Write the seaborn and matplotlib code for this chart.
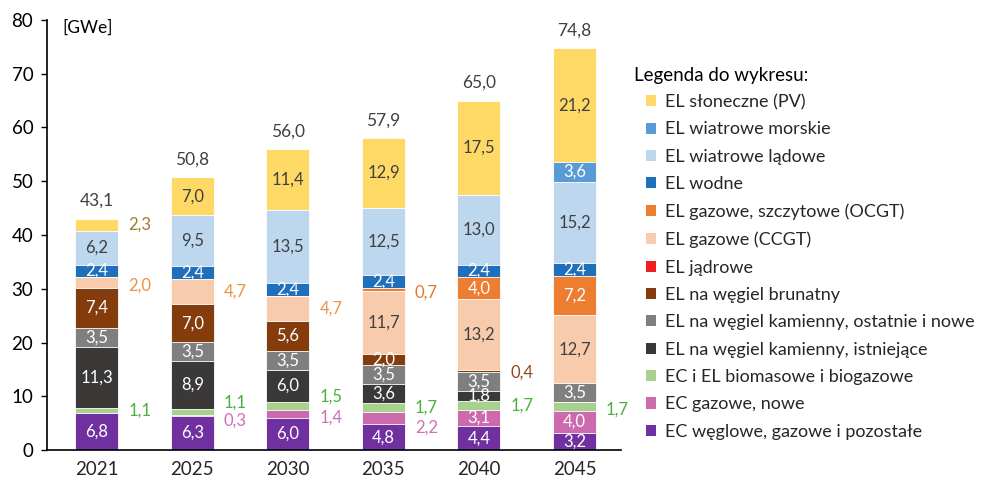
import numpy as np
import pandas as pd
import matplotlib.pyplot as plt
import matplotlib.patches as mpatches
import seaborn as sns

# Data (GWe), stacking order bottom -> top
years = ['2021', '2025', '2030', '2035', '2040', '2045']
categories = [
    'EC węglowe, gazowe i pozostałe',
    'EC gazowe, nowe',
    'EC i EL biomasowe i biogazowe',
    'EL na węgiel kamienny, istniejące',
    'EL na węgiel kamienny, ostatnie i nowe',
    'EL na węgiel brunatny',
    'EL jądrowe',
    'EL gazowe (CCGT)',
    'EL gazowe, szczytowe (OCGT)',
    'EL wodne',
    'EL wiatrowe lądowe',
    'EL wiatrowe morskie',
    'EL słoneczne (PV)',
]
ec_coal_gas = [6.8, 6.3, 6.0, 4.8, 4.4, 3.2]
ec_gas_new = [0.0, 0.3, 1.4, 2.2, 3.1, 4.0]
biomass = [1.1, 1.1, 1.5, 1.7, 1.7, 1.7]
hard_coal_old = [11.3, 8.9, 6.0, 3.6, 1.8, 0.0]
hard_coal_new = [3.5, 3.5, 3.5, 3.5, 3.5, 3.5]
lignite = [7.4, 7.0, 5.6, 2.0, 0.4, 0.0]
nuclear = [0.0, 0.0, 0.0, 0.0, 0.0, 0.0]
ccgt = [2.0, 4.7, 4.7, 11.7, 13.2, 12.7]
ocgt = [0.0, 0.0, 0.0, 0.7, 4.0, 7.2]
hydro = [2.4, 2.4, 2.4, 2.4, 2.4, 2.4]
wind_onshore = [6.2, 9.5, 13.5, 12.5, 13.0, 15.2]
wind_offshore = [0.0, 0.0, 0.0, 0.0, 0.0, 3.6]
solar = [2.3, 7.0, 11.4, 12.9, 17.5, 21.2]
totals = [43.1, 50.8, 56.0, 57.9, 65.0, 74.8]

series = [ec_coal_gas, ec_gas_new, biomass, hard_coal_old, hard_coal_new, lignite,
          nuclear, ccgt, ocgt, hydro, wind_onshore, wind_offshore, solar]

# styling
colors = ['#7030A0', '#CC6AAE', '#A9D18E', '#3B3838', '#7F7F7F', '#843C0C',
          '#F01E23', '#F8CBAD', '#ED7D31', '#1F6FBA', '#BDD7EE', '#5B9BD5', '#FFD966']
inside_text = ['white', 'white', 'white', 'white', 'white', 'white',
               'white', '#404040', 'white', 'white', '#404040', 'white', '#404040']
outside_text = {1: '#D070B4', 2: '#4BAE3E', 5: '#8E4A1C', 7: '#F0913E',
                8: '#E8762E', 12: '#A07D2E'}
# which labels sit to the right of the bar: category index -> year indices
outside = {1: [1, 2, 3], 2: [0, 1, 2, 3, 4, 5], 5: [4], 7: [0, 1, 2],
           8: [3], 12: [0]}
# small vertical nudges for crowded outside labels (data units)
nudge = {(2, 1): 1.6, (1, 1): -1.0, (2, 2): 1.7, (1, 2): -0.75, (1, 3): -1.7,
         (7, 0): -0.5, (8, 3): -0.5, (5, 4): -0.3, (2, 5): -0.6}

rows = []
for ci, (cat, vals) in enumerate(zip(categories, series)):
    for yi, (yr, v) in enumerate(zip(years, vals)):
        rows.append(dict(cat=cat, ci=ci, year=yr, yi=yi, value=v))
df = pd.DataFrame(rows)
df['cum'] = df.groupby('year')['value'].cumsum()
df['mid'] = df['cum'] - df['value'] / 2

sns.set_style('ticks')
plt.rcParams['font.family'] = ['Lato', 'DejaVu Sans']

fig = plt.figure(figsize=(9.83, 4.86), dpi=100)
ax = fig.add_axes([0.048, 0.074, 0.584, 0.885])

# draw cumulative bars from the top layer down so lower layers cover them
for ci in range(len(categories) - 1, -1, -1):
    sub = df[df['ci'] == ci]
    sns.barplot(data=sub, x='year', y='cum', order=years, color=colors[ci],
                saturation=1, width=0.45, edgecolor='white', linewidth=0.6,
                errorbar=None, ax=ax)

def fmt(v):
    return f'{v:.1f}'.replace('.', ',')

for _, r in df.iterrows():
    if r['value'] <= 0:
        continue
    ci, yi = r['ci'], r['yi']
    if yi in outside.get(ci, []):
        y = r['mid'] + nudge.get((ci, yi), 0)
        ax.text(yi + 0.45, y, fmt(r['value']), ha='center', va='center',
                fontsize=12, color=outside_text[ci])
    else:
        ax.text(yi, r['mid'], fmt(r['value']), ha='center', va='center',
                fontsize=12, color=inside_text[ci])

for yi, t in enumerate(totals):
    ax.annotate(fmt(t), (yi, t), xytext=(0, 7), textcoords='offset points',
                ha='center', va='bottom', fontsize=12.5, color='#404040')

ax.set_xlim(-0.52, 5.49)
ax.set_ylim(0, 80)
ax.set_yticks(range(0, 81, 10))
ax.set_xlabel('')
ax.set_ylabel('')
ax.tick_params(axis='y', labelsize=13.5, length=4, width=1, colors='black', pad=6)
ax.tick_params(axis='x', labelsize=13.5, length=0, pad=8)
for s in ['top', 'right']:
    ax.spines[s].set_visible(False)
for s in ['left', 'bottom']:
    ax.spines[s].set_color('black')
    ax.spines[s].set_linewidth(1.2)

ax.text(0.026, 0.982, '[GWe]', transform=ax.transAxes, ha='left', va='center',
        fontsize=12.5, color='black')

# legend
fig.text(634 / 983, 1 - 75 / 486, 'Legenda do wykresu:', ha='left', va='center',
         fontsize=13.5, color='black')
handles = [mpatches.Patch(facecolor=colors[i], edgecolor='none')
           for i in range(len(categories) - 1, -1, -1)]
labels = [categories[i] for i in range(len(categories) - 1, -1, -1)]
fig.legend(handles, labels, loc='upper left', bbox_to_anchor=(646 / 983, 1 - 94 / 486),
           frameon=False, borderpad=0, borderaxespad=0, fontsize=13,
           handlelength=0.58, handleheight=0.58, handletextpad=0.45,
           labelspacing=0.63)

fig.savefig('out.png', dpi=100, facecolor='white')
